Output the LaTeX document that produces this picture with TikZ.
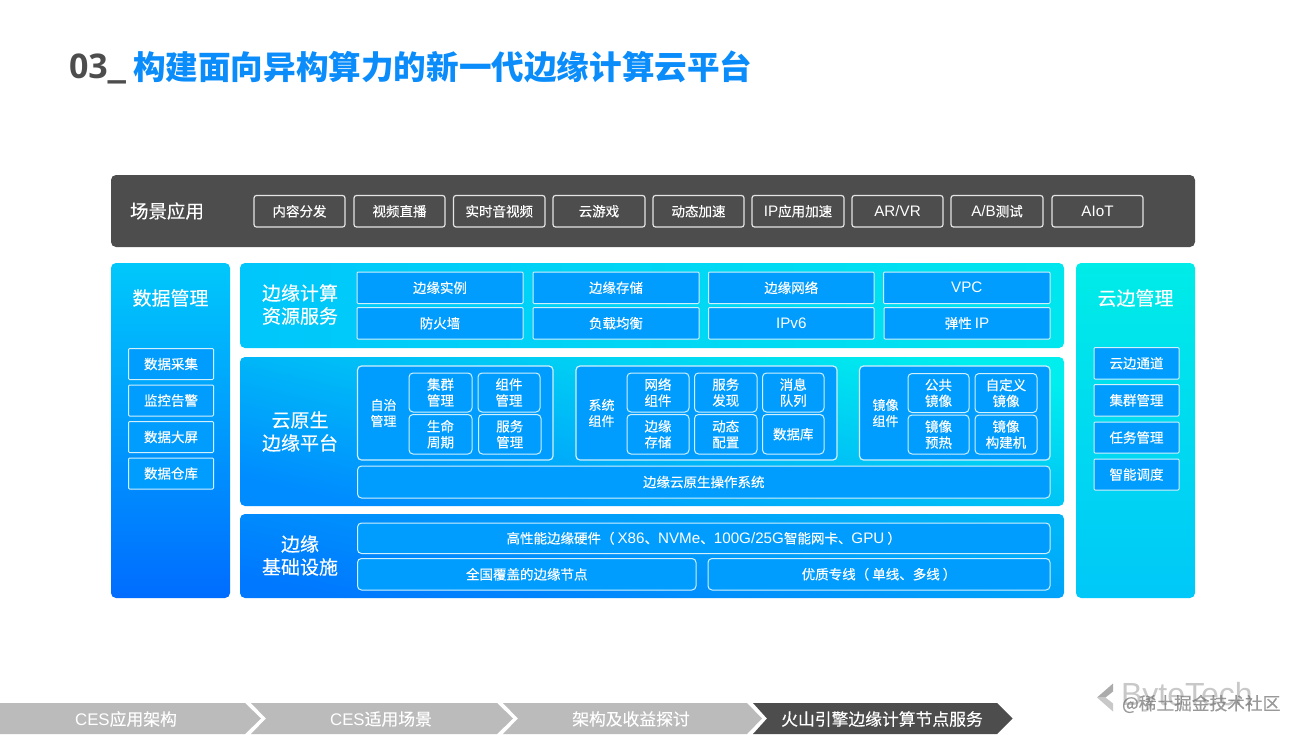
\documentclass[tikz,border=0pt]{standalone}
\usepackage{fontspec}
\setmainfont{Noto Sans CJK SC}[FakeBold=0.25]
\newfontfamily\cjkb{Noto Sans CJK SC}
\newfontfamily\latf{Liberation Sans}
\newfontfamily\numf{Open Sans}
\newcommand{\lat}[1]{{\latf #1}\vphantom{国}}
\newcommand{\latb}[1]{{\fontsize{15.2}{16}\selectfont\latf #1}\vphantom{国}}
\definecolor{dark}{HTML}{4D4D4D}
\definecolor{boxblue}{HTML}{009DFF}
\definecolor{tabgray}{HTML}{BBBBBB}
\definecolor{logodark}{HTML}{ABABAB}
\definecolor{logolight}{HTML}{C8C8C8}
\definecolor{titleblue}{HTML}{0A8CFA}
\definecolor{lefttop}{HTML}{00C8FB}
\definecolor{leftbot}{HTML}{006CFF}
\definecolor{resl}{HTML}{00C6FB}
\definecolor{resr}{HTML}{00E6EE}
\definecolor{nattop}{HTML}{00EEEE}
\definecolor{natbot}{HTML}{008CFF}
\definecolor{inftop}{HTML}{00B4F8}
\definecolor{infbot}{HTML}{0078FF}
\definecolor{rgttop}{HTML}{00ECE8}
\definecolor{rgtbot}{HTML}{00C8F8}
\newcommand{\bx}[7][]{%
  \pgfmathsetmacro{\bxw}{#5-#3}\pgfmathsetmacro{\bxh}{#6-#4}%
  \node[#1,minimum width=\bxw pt,minimum height=\bxh pt,anchor=north west] (#2) at (#3,#4) {#7};}
\tikzset{
  x=1pt,y=-1pt,
  every node/.style={inner sep=0pt,outer sep=0pt,text=white,align=center},
  base/.style={rectangle,draw=white!82!cyan,line width=1pt,font=\fontsize{13.5}{16}\selectfont},
  appbox/.style={base,draw=white!90!black,rounded corners=2.5pt,line width=1.2pt},
  resbox/.style={base,rounded corners=1pt,fill=boxblue},
  roundbox/.style={base,rounded corners=4pt,fill=boxblue},
  groupbox/.style={roundbox,line width=1.2pt},
  panel/.style={rectangle,rounded corners=5pt},
  heading/.style={font=\fontsize{19}{23}\selectfont},
  sublabel/.style={font=\fontsize{13}{16}\selectfont},
  tablabel/.style={font=\fontsize{16.8}{20}\selectfont},
}
\begin{document}
\begin{tikzpicture}
\useasboundingbox (0,0) rectangle (1304,734);
% title
\node[anchor=west,text=dark,font=\fontsize{34}{40}\selectfont] (t1) at (69,69) {{\numf\bfseries 03}{\cjkb\bfseries\char"5F}};
\node[anchor=west,text=titleblue,font=\fontsize{32.6}{40}\cjkb\bfseries\selectfont] (t2) at (133,67) {构建面向异构算力的新一代边缘计算云平台};
% scene bar
\bx[panel,fill=dark]{scene}{111}{175}{1195}{247}{}
\node[font=\fontsize{18.5}{22}\selectfont] (scenetitle) at (167,211) {场景应用};
\bx[appbox]{a1}{254}{195.5}{345}{227}{内容分发}
\bx[appbox]{a2}{354}{195.5}{445}{227}{视频直播}
\bx[appbox]{a3}{453.5}{195.5}{545}{227}{实时音视频}
\bx[appbox]{a4}{553}{195.5}{645}{227}{云游戏}
\bx[appbox]{a5}{653}{195.5}{744}{227}{动态加速}
\bx[appbox]{a6}{752}{195.5}{844}{227}{\latb{IP}应用加速}
\bx[appbox]{a7}{852}{195.5}{943}{227}{\latb{AR/VR}}
\bx[appbox]{a8}{951}{195.5}{1043}{227}{\latb{A/B}测试}
\bx[appbox]{a9}{1052}{195.5}{1143}{227}{\latb{AIoT}}
% left panel
\bx[panel,top color=lefttop,bottom color=leftbot]{left}{111}{263}{230}{598}{}
\node[heading] (lefttitle) at (170.5,298) {数据管理};
\bx[resbox]{l1}{128.5}{348.5}{213.5}{379.5}{数据采集}
\bx[resbox]{l2}{128.5}{385}{213.5}{416}{监控告警}
\bx[resbox]{l3}{128.5}{421.5}{213.5}{452.5}{数据大屏}
\bx[resbox]{l4}{128.5}{458}{213.5}{489}{数据仓库}
% resource panel
\bx[panel,left color=resl,right color=resr]{res}{240}{263}{1064}{348}{}
\node[heading] (restitle) at (300,304.5) {边缘计算\\资源服务};
\bx[resbox]{r1}{357}{272}{523}{303.5}{边缘实例}
\bx[resbox]{r2}{533}{272}{699}{303.5}{边缘存储}
\bx[resbox]{r3}{708.5}{272}{874}{303.5}{边缘网络}
\bx[resbox]{r4}{883.5}{272}{1050}{303.5}{\latb{VPC}}
\bx[resbox]{r5}{357}{307.5}{523}{339}{防火墙}
\bx[resbox]{r6}{533}{307.5}{699}{339}{负载均衡}
\bx[resbox]{r7}{708.5}{307.5}{874}{339}{\latb{IPv6}}
\bx[resbox]{r8}{884}{307.5}{1050}{339}{弹性 \latb{IP}}
% cloud native panel
\bx[panel,top color=nattop,bottom color=natbot,shading angle=-13]{native}{240}{357}{1064}{506}{}
\node[heading] (nativetitle) at (300,431.5) {云原生\\边缘平台};
\bx[groupbox]{g1}{357.5}{366}{553}{460}{}
\node[sublabel] (g1l) at (383.5,413) {自治\\管理};
\bx[roundbox]{c1}{409}{373}{472}{412}{集群\\管理}
\bx[roundbox]{c2}{478}{373}{540}{412}{组件\\管理}
\bx[roundbox]{c3}{409}{414.5}{472}{454}{生命\\周期}
\bx[roundbox]{c4}{478.5}{414.5}{541}{454}{服务\\管理}
\bx[groupbox]{g2}{576}{366}{837}{460}{}
\node[sublabel] (g2l) at (601.5,413) {系统\\组件};
\bx[roundbox]{s1}{627}{373}{689}{412}{网络\\组件}
\bx[roundbox]{s2}{694.5}{373}{757}{412}{服务\\发现}
\bx[roundbox]{s3}{762.5}{373}{824}{412}{消息\\队列}
\bx[roundbox]{s4}{627}{414.5}{689}{454}{边缘\\存储}
\bx[roundbox]{s5}{694.5}{414.5}{757}{454}{动态\\配置}
\bx[roundbox]{s6}{762.5}{414.5}{824}{454}{数据库}
\bx[groupbox]{g3}{859.5}{366}{1050}{460}{}
\node[sublabel] (g3l) at (885.5,413) {镜像\\组件};
\bx[roundbox]{m1}{908}{373.5}{969}{412.5}{公共\\镜像}
\bx[roundbox]{m2}{975}{373.5}{1037}{412.5}{自定义\\镜像}
\bx[roundbox]{m3}{908}{415}{969}{454}{镜像\\预热}
\bx[roundbox]{m4}{975}{415}{1037}{454}{镜像\\构建机}
\bx[roundbox]{os}{357.5}{466}{1050}{498}{边缘云原生操作系统}
% infrastructure panel
\bx[panel,top color=inftop,bottom color=infbot,shading angle=-12]{infra}{240}{514}{1064}{598}{}
\node[heading] (infratitle) at (300,555.5) {边缘\\基础设施};
\bx[roundbox]{h1}{357.5}{523}{1050}{553.5}{高性能边缘硬件（ \latb{X86}、\latb{NVMe}、\latb{100G/25G}智能网卡、\latb{GPU} ）}
\bx[roundbox]{h2}{357.5}{558.5}{696}{590}{全国覆盖的边缘节点}
\bx[roundbox]{h3}{708}{558.5}{1050}{590}{优质专线（ 单线、多线 ）}
% right panel
\bx[panel,top color=rgttop,bottom color=rgtbot]{right}{1076}{263}{1195}{598}{}
\node[heading] (righttitle) at (1135.5,298) {云边管理};
\bx[resbox]{e1}{1094}{347.5}{1179}{379}{云边通道}
\bx[resbox]{e2}{1094}{384.5}{1179}{416}{集群管理}
\bx[resbox]{e3}{1094}{422}{1179}{453}{任务管理}
\bx[resbox]{e4}{1094}{459}{1179}{490}{智能调度}
% bottom tabs
\fill[tabgray] (0,703) -- (245,703) -- (261,718.5) -- (245,734) -- (0,734) -- cycle;
\fill[tabgray] (251,703) -- (497,703) -- (513,718.5) -- (497,734) -- (251,734) -- (266,718.5) -- cycle;
\fill[tabgray] (503,703) -- (747,703) -- (762,718.5) -- (747,734) -- (503,734) -- (518,718.5) -- cycle;
\fill[dark] (753,703) -- (997,703) -- (1012.5,718.5) -- (997,734) -- (753,734) -- (767,718.5) -- cycle;
\node[tablabel] (b1) at (126,719) {\lat{CES}应用架构};
\node[tablabel] (b2) at (381,719) {\lat{CES}适用场景};
\node[tablabel] (b3) at (631,719) {架构及收益探讨};
\node[tablabel] (b4) at (882,719) {火山引擎边缘计算节点服务};
% brand and watermark
\fill[logodark] (1113,683.5) -- (1097,697.5) -- (1105.5,697.5) -- (1113,691.5) -- cycle;
\fill[logolight] (1097,697.5) -- (1113,711.5) -- (1113,703.5) -- (1105.5,697.5) -- cycle;
\node[anchor=west,text=logolight,font=\fontsize{32}{36}\latf\selectfont] (brand) at (1121,697) {ByteTech};
\node[anchor=west,text=black!55,opacity=.7,font=\fontsize{17.7}{20}\selectfont] (mark) at (1122,704) {@稀土掘金技术社区};
\end{tikzpicture}
\end{document}
